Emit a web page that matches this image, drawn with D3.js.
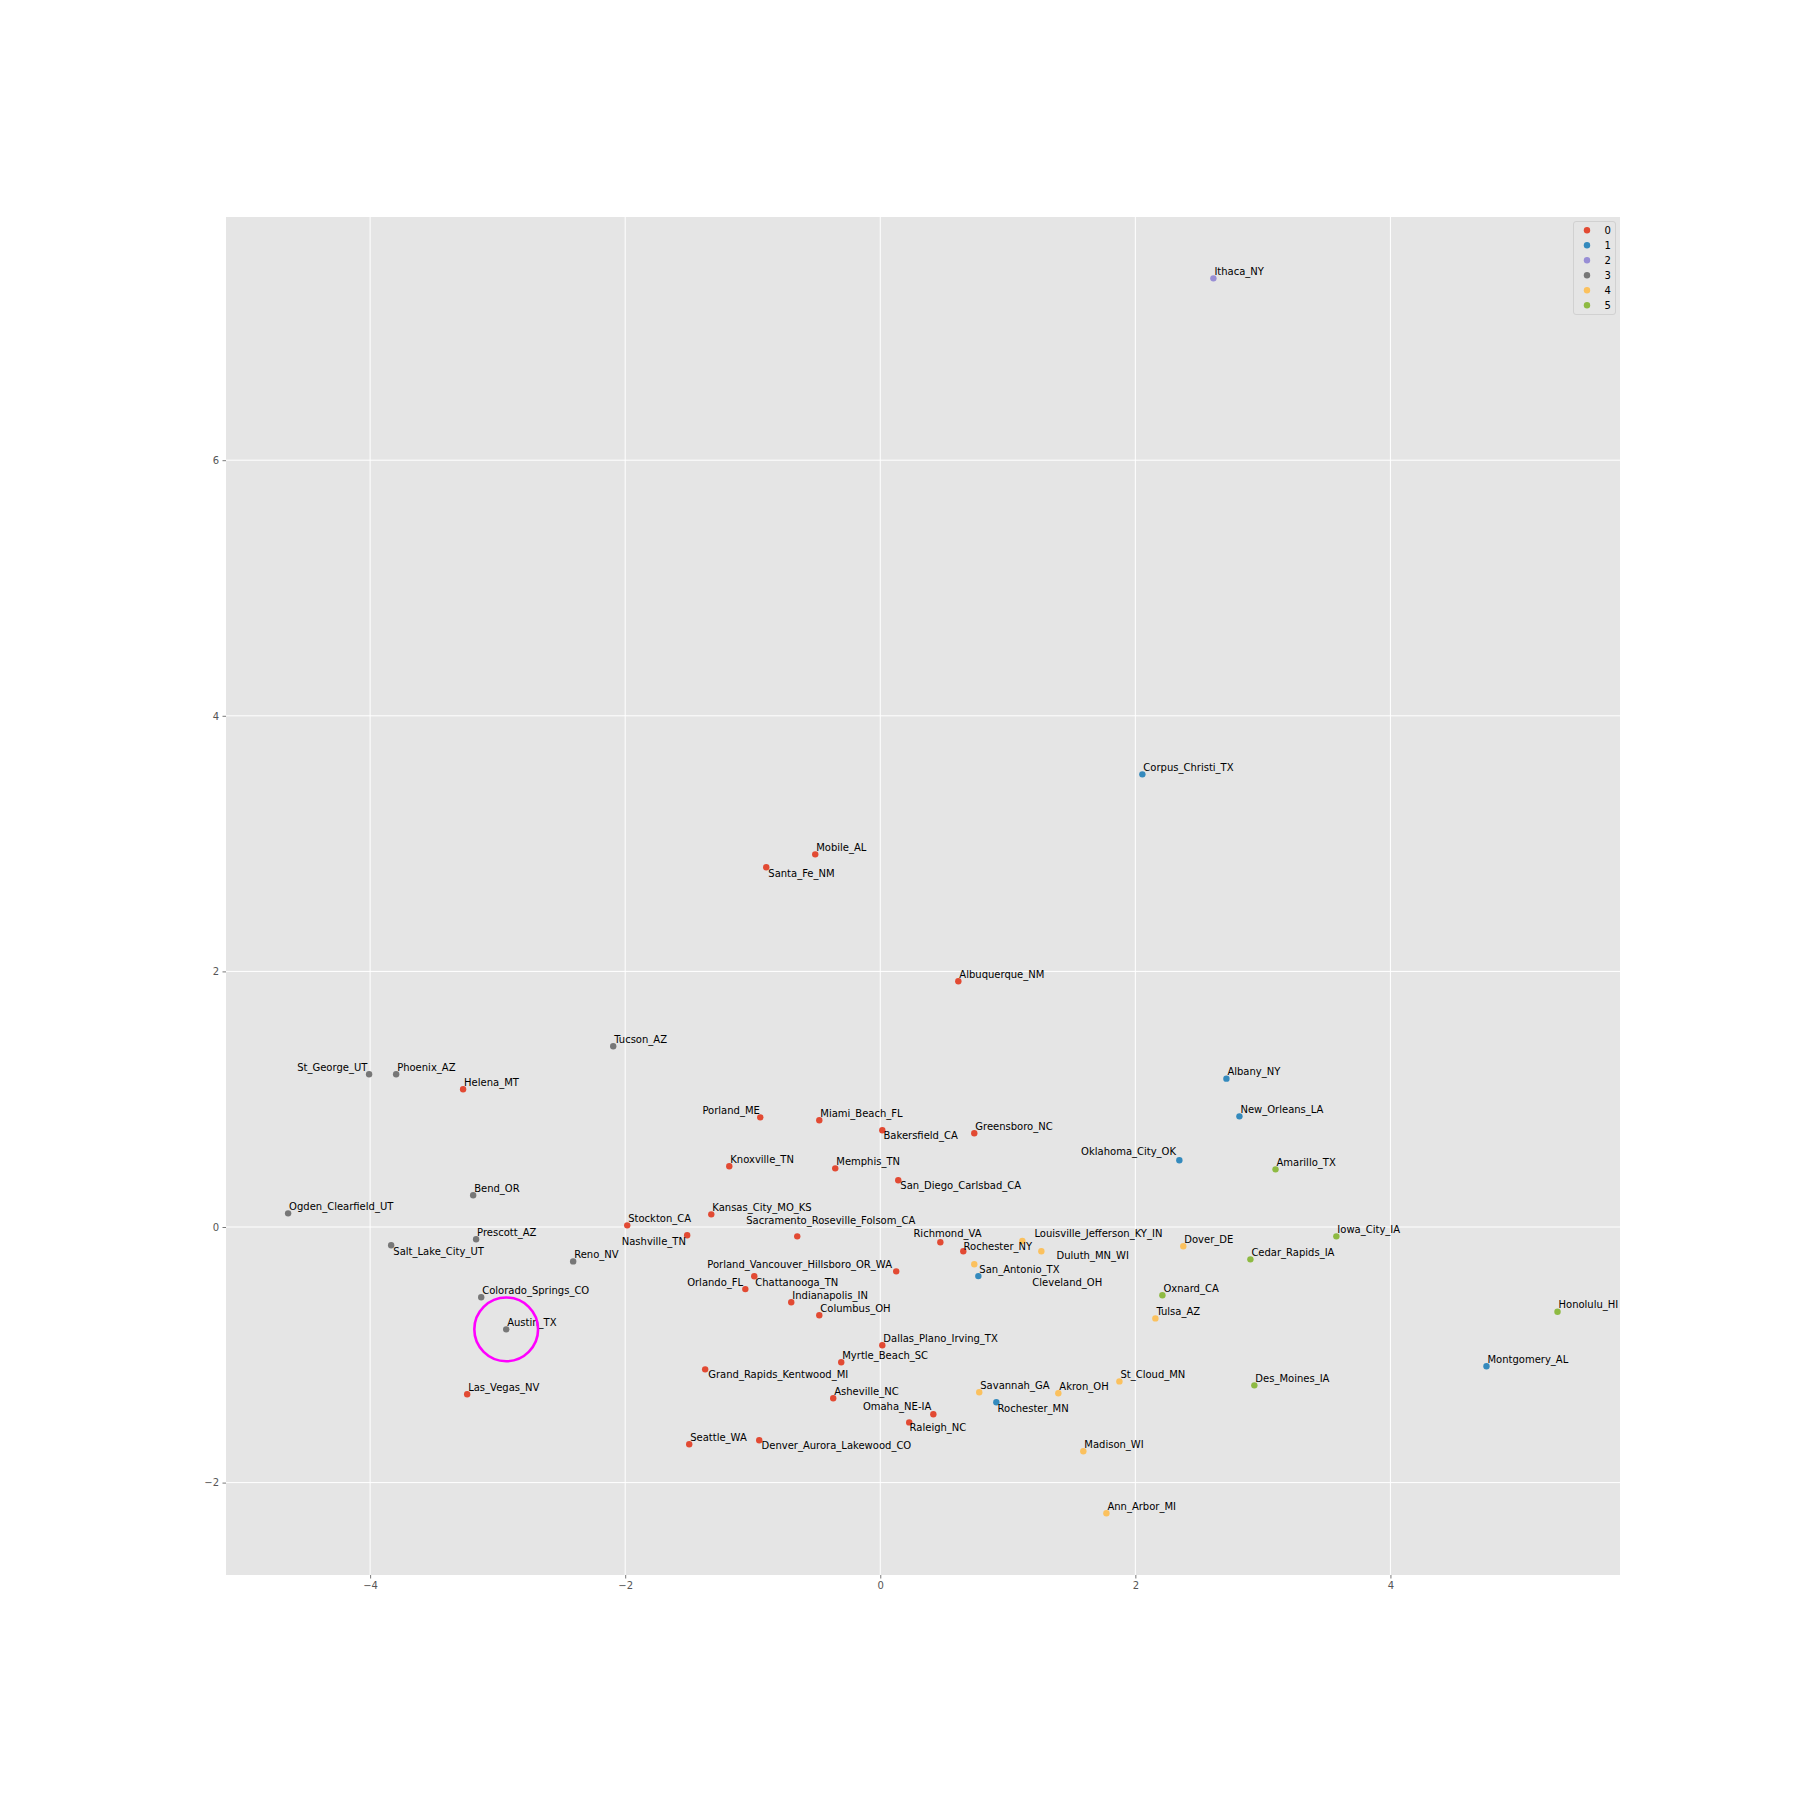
<!DOCTYPE html>
<html>
<head>
<meta charset="utf-8">
<script src="https://cdn.jsdelivr.net/npm/d3@7"></script>
<style>
  html, body { margin: 0; padding: 0; background: #ffffff; }
  svg { display: block; font-family: "DejaVu Sans", sans-serif; }
</style>
</head>
<body>
<div id="chart"></div>
<script>
// ---------------- data ----------------
const names = [
  "Mobile_AL","Santa_Fe_NM","Albuquerque_NM","Helena_MT","Porland_ME","Miami_Beach_FL",
  "Bakersfield_CA","Greensboro_NC","Knoxville_TN","Memphis_TN","San_Diego_Carlsbad_CA",
  "Kansas_City_MO_KS","Stockton_CA","Nashville_TN","Sacramento_Roseville_Folsom_CA",
  "Richmond_VA","Rochester_NY","Porland_Vancouver_Hillsboro_OR_WA","Chattanooga_TN",
  "Orlando_FL","Indianapolis_IN","Columbus_OH","Dallas_Plano_Irving_TX","Myrtle_Beach_SC",
  "Grand_Rapids_Kentwood_MI","Asheville_NC","Omaha_NE-IA","Raleigh_NC","Seattle_WA",
  "Denver_Aurora_Lakewood_CO","Las_Vegas_NV",
  "Corpus_Christi_TX","Albany_NY","New_Orleans_LA","Oklahoma_City_OK","San_Antonio_TX",
  "Rochester_MN","Montgomery_AL",
  "Ithaca_NY",
  "Tucson_AZ","St_George_UT","Phoenix_AZ","Bend_OR","Ogden_Clearfield_UT","Prescott_AZ",
  "Salt_Lake_City_UT","Reno_NV","Colorado_Springs_CO","Austin_TX",
  "Louisville_Jefferson_KY_IN","Duluth_MN_WI","Cleveland_OH","Dover_DE","Tulsa_AZ",
  "Savannah_GA","Akron_OH","St_Cloud_MN","Madison_WI","Ann_Arbor_MI",
  "Amarillo_TX","Iowa_City_IA","Cedar_Rapids_IA","Oxnard_CA","Des_Moines_IA","Honolulu_HI"
];
const xValues = [
  -0.510,-0.894,0.612,-3.271,-0.941,-0.478,
  0.016,0.737,-1.184,-0.353,0.141,
  -1.325,-1.984,-1.514,-0.651,
  0.471,0.651,0.125,-0.988,
  -1.058,-0.698,-0.478,0.016,-0.306,
  -1.373,-0.369,0.416,0.227,-1.498,
  -0.949,-3.239,
  2.055,2.714,2.816,2.345,0.769,
  0.910,4.753,
  2.612,
  -2.094,-4.008,-3.796,-3.192,-4.643,-3.169,
  -3.835,-2.408,-3.129,-2.933,
  1.114,1.263,0.737,2.376,2.157,
  0.776,1.396,1.875,1.592,1.773,
  3.099,3.576,2.902,2.212,2.933,5.310
];
const yValues = [
  2.916,2.815,1.923,1.078,0.858,0.835,
  0.757,0.733,0.475,0.459,0.366,
  0.099,0.013,-0.065,-0.073,
  -0.119,-0.190,-0.347,-0.385,
  -0.486,-0.589,-0.691,-0.925,-1.058,
  -1.114,-1.340,-1.465,-1.529,-1.700,
  -1.669,-1.309,
  3.542,1.161,0.866,0.522,-0.384,
  -1.371,-1.090,
  7.423,
  1.414,1.195,1.195,0.248,0.107,-0.096,
  -0.143,-0.269,-0.550,-0.801,
  -0.109,-0.190,-0.292,-0.151,-0.715,
  -1.293,-1.301,-1.208,-1.755,-2.240,
  0.451,-0.073,-0.253,-0.534,-1.239,-0.663
];
const clusterIds = [
  0,0,0,0,0,0, 0,0,0,0,0, 0,0,0,0, 0,0,0,0, 0,0,0,0,0, 0,0,0,0,0, 0,0,
  1,1,1,1,1, 1,1,
  2,
  3,3,3,3,3,3, 3,3,3,3,
  4,4,4,4,4, 4,4,4,4,4,
  5,5,5,5,5,5
];
const legendLabels = ["0","1","2","3","4","5"];
const xTicks = [-4, -2, 0, 2, 4];
const yTicks = [-2, 0, 2, 4, 6];
const xDomain = [-5.13, 5.80];
const yDomain = [-2.723, 7.903];

// text positions (data coords of the text baseline anchor) for labels moved off their point
const movedLabelNames = [
  "St_George_UT","Nashville_TN","Salt_Lake_City_UT","Porland_ME","Bakersfield_CA",
  "San_Diego_Carlsbad_CA","Sacramento_Roseville_Folsom_CA","Richmond_VA","Rochester_NY",
  "Louisville_Jefferson_KY_IN","Duluth_MN_WI","Cleveland_OH","Porland_Vancouver_Hillsboro_OR_WA",
  "Orlando_FL","Chattanooga_TN","Grand_Rapids_Kentwood_MI","Omaha_NE-IA","Raleigh_NC",
  "Denver_Aurora_Lakewood_CO","Rochester_MN","Oklahoma_City_OK","Santa_Fe_NM"
];
const movedLabelX = [
  -4.022,-1.524,-3.818,-0.944,0.025,
  0.157,-1.051,0.260,0.653,
  1.209,1.382,1.192,0.092,
  -1.075,-0.980,-1.349,0.400,0.230,
  -0.931,0.920,2.319,-0.878
];
const movedLabelY = [
  1.221,-0.141,-0.219,0.888,0.687,
  0.295,0.021,-0.076,-0.180,
  -0.076,-0.253,-0.462,-0.319,
  -0.459,-0.459,-1.184,-1.432,-1.597,
  -1.739,-1.445,0.561,2.741
];
const movedLabelAnchor = [
  "end","end","start","end","start",
  "start","start","start","start",
  "start","start","start","end",
  "end","start","start","end","start",
  "start","start","end","start"
];
const highlightName = "Austin_TX";
const highlightRadius = 0.25; // data units

// ---------------- style ----------------
const W = 1800, H = 1800;
const plot = { left: 226, right: 1620, top: 217, bottom: 1575 };
const colors = ["#E24A33", "#348ABD", "#988ED5", "#777777", "#FBC15E", "#8EBA42"];
const fontSize = 10;

const svg = d3.select("#chart").append("svg")
  .attr("width", W).attr("height", H)
  .attr("viewBox", `0 0 ${W} ${H}`);

svg.append("rect").attr("width", W).attr("height", H).attr("fill", "#ffffff");

const x = d3.scaleLinear().domain(xDomain).range([plot.left, plot.right]);
const y = d3.scaleLinear().domain(yDomain).range([plot.bottom, plot.top]);

// background
svg.append("rect")
  .attr("x", plot.left).attr("y", plot.top)
  .attr("width", plot.right - plot.left).attr("height", plot.bottom - plot.top)
  .attr("fill", "#E5E5E5");

// grid
const grid = svg.append("g");
grid.selectAll("line.vx").data(xTicks).join("line")
  .attr("x1", d => x(d)).attr("x2", d => x(d))
  .attr("y1", plot.top).attr("y2", plot.bottom)
  .attr("stroke", "#ffffff").attr("stroke-width", 1);
grid.selectAll("line.hy").data(yTicks).join("line")
  .attr("y1", d => y(d)).attr("y2", d => y(d))
  .attr("x1", plot.left).attr("x2", plot.right)
  .attr("stroke", "#ffffff").attr("stroke-width", 1);

// axes
const fmt = d => (d < 0 ? "\u2212" + Math.abs(d) : String(d));
const xAxis = svg.append("g")
  .attr("transform", `translate(0,${plot.bottom})`)
  .call(d3.axisBottom(x).tickValues(xTicks).tickFormat(fmt).tickSize(3.5).tickPadding(3.5));
const yAxis = svg.append("g")
  .attr("transform", `translate(${plot.left},0)`)
  .call(d3.axisLeft(y).tickValues(yTicks).tickFormat(fmt).tickSize(3.5).tickPadding(3.5));
[xAxis, yAxis].forEach(a => {
  a.select(".domain").remove();
  a.selectAll(".tick line").attr("stroke", "#555555").attr("stroke-width", 0.8);
  a.selectAll(".tick text")
    .attr("fill", "#555555")
    .style("font-family", "DejaVu Sans")
    .style("font-size", fontSize + "px");
});

// points
const points = names.map((n, i) => ({ name: n, x: xValues[i], y: yValues[i], c: clusterIds[i] }));
const pts = svg.append("g");
legendLabels.forEach((lab, ci) => {
  pts.selectAll(null).data(points.filter(p => p.c === ci)).join("circle")
    .attr("cx", d => x(d.x)).attr("cy", d => y(d.y))
    .attr("r", 3.2)
    .attr("fill", colors[ci]);
});

// labels
const moved = {};
movedLabelNames.forEach((n, i) => {
  moved[n] = { x: movedLabelX[i], y: movedLabelY[i], anchor: movedLabelAnchor[i] };
});
svg.append("g").selectAll("text").data(points).join("text")
  .attr("x", d => moved[d.name] ? x(moved[d.name].x) : x(d.x) + 1)
  .attr("y", d => moved[d.name] ? y(moved[d.name].y) : y(d.y) - 3.5)
  .attr("text-anchor", d => moved[d.name] ? moved[d.name].anchor : "start")
  .attr("fill", "#000000")
  .style("font-size", fontSize + "px")
  .text(d => d.name);

// highlight circle
const hp = points.find(p => p.name === highlightName);
svg.append("circle")
  .attr("cx", x(hp.x)).attr("cy", y(hp.y))
  .attr("r", x(highlightRadius) - x(0))
  .attr("fill", "none")
  .attr("stroke", "#FF00FF")
  .attr("stroke-width", 2.6);

// legend
const lg = svg.append("g").attr("transform", "translate(1573,221)");
lg.append("rect")
  .attr("x", 0.5).attr("y", 0.5).attr("width", 42).attr("height", 93)
  .attr("rx", 2.5).attr("ry", 2.5)
  .attr("fill", "#E5E5E5").attr("fill-opacity", 0.8)
  .attr("stroke", "#CCCCCC").attr("stroke-opacity", 0.8).attr("stroke-width", 1);
const rows = lg.selectAll("g.row").data(legendLabels).join("g")
  .attr("transform", (d, i) => `translate(0,${9.3 + i * 15})`);
rows.append("circle").attr("cx", 14).attr("cy", 0).attr("r", 3.2)
  .attr("fill", (d, i) => colors[i]);
rows.append("text").attr("x", 31.5).attr("y", 3.6)
  .attr("fill", "#000000")
  .style("font-size", fontSize + "px")
  .text(d => d);
</script>
</body>
</html>
